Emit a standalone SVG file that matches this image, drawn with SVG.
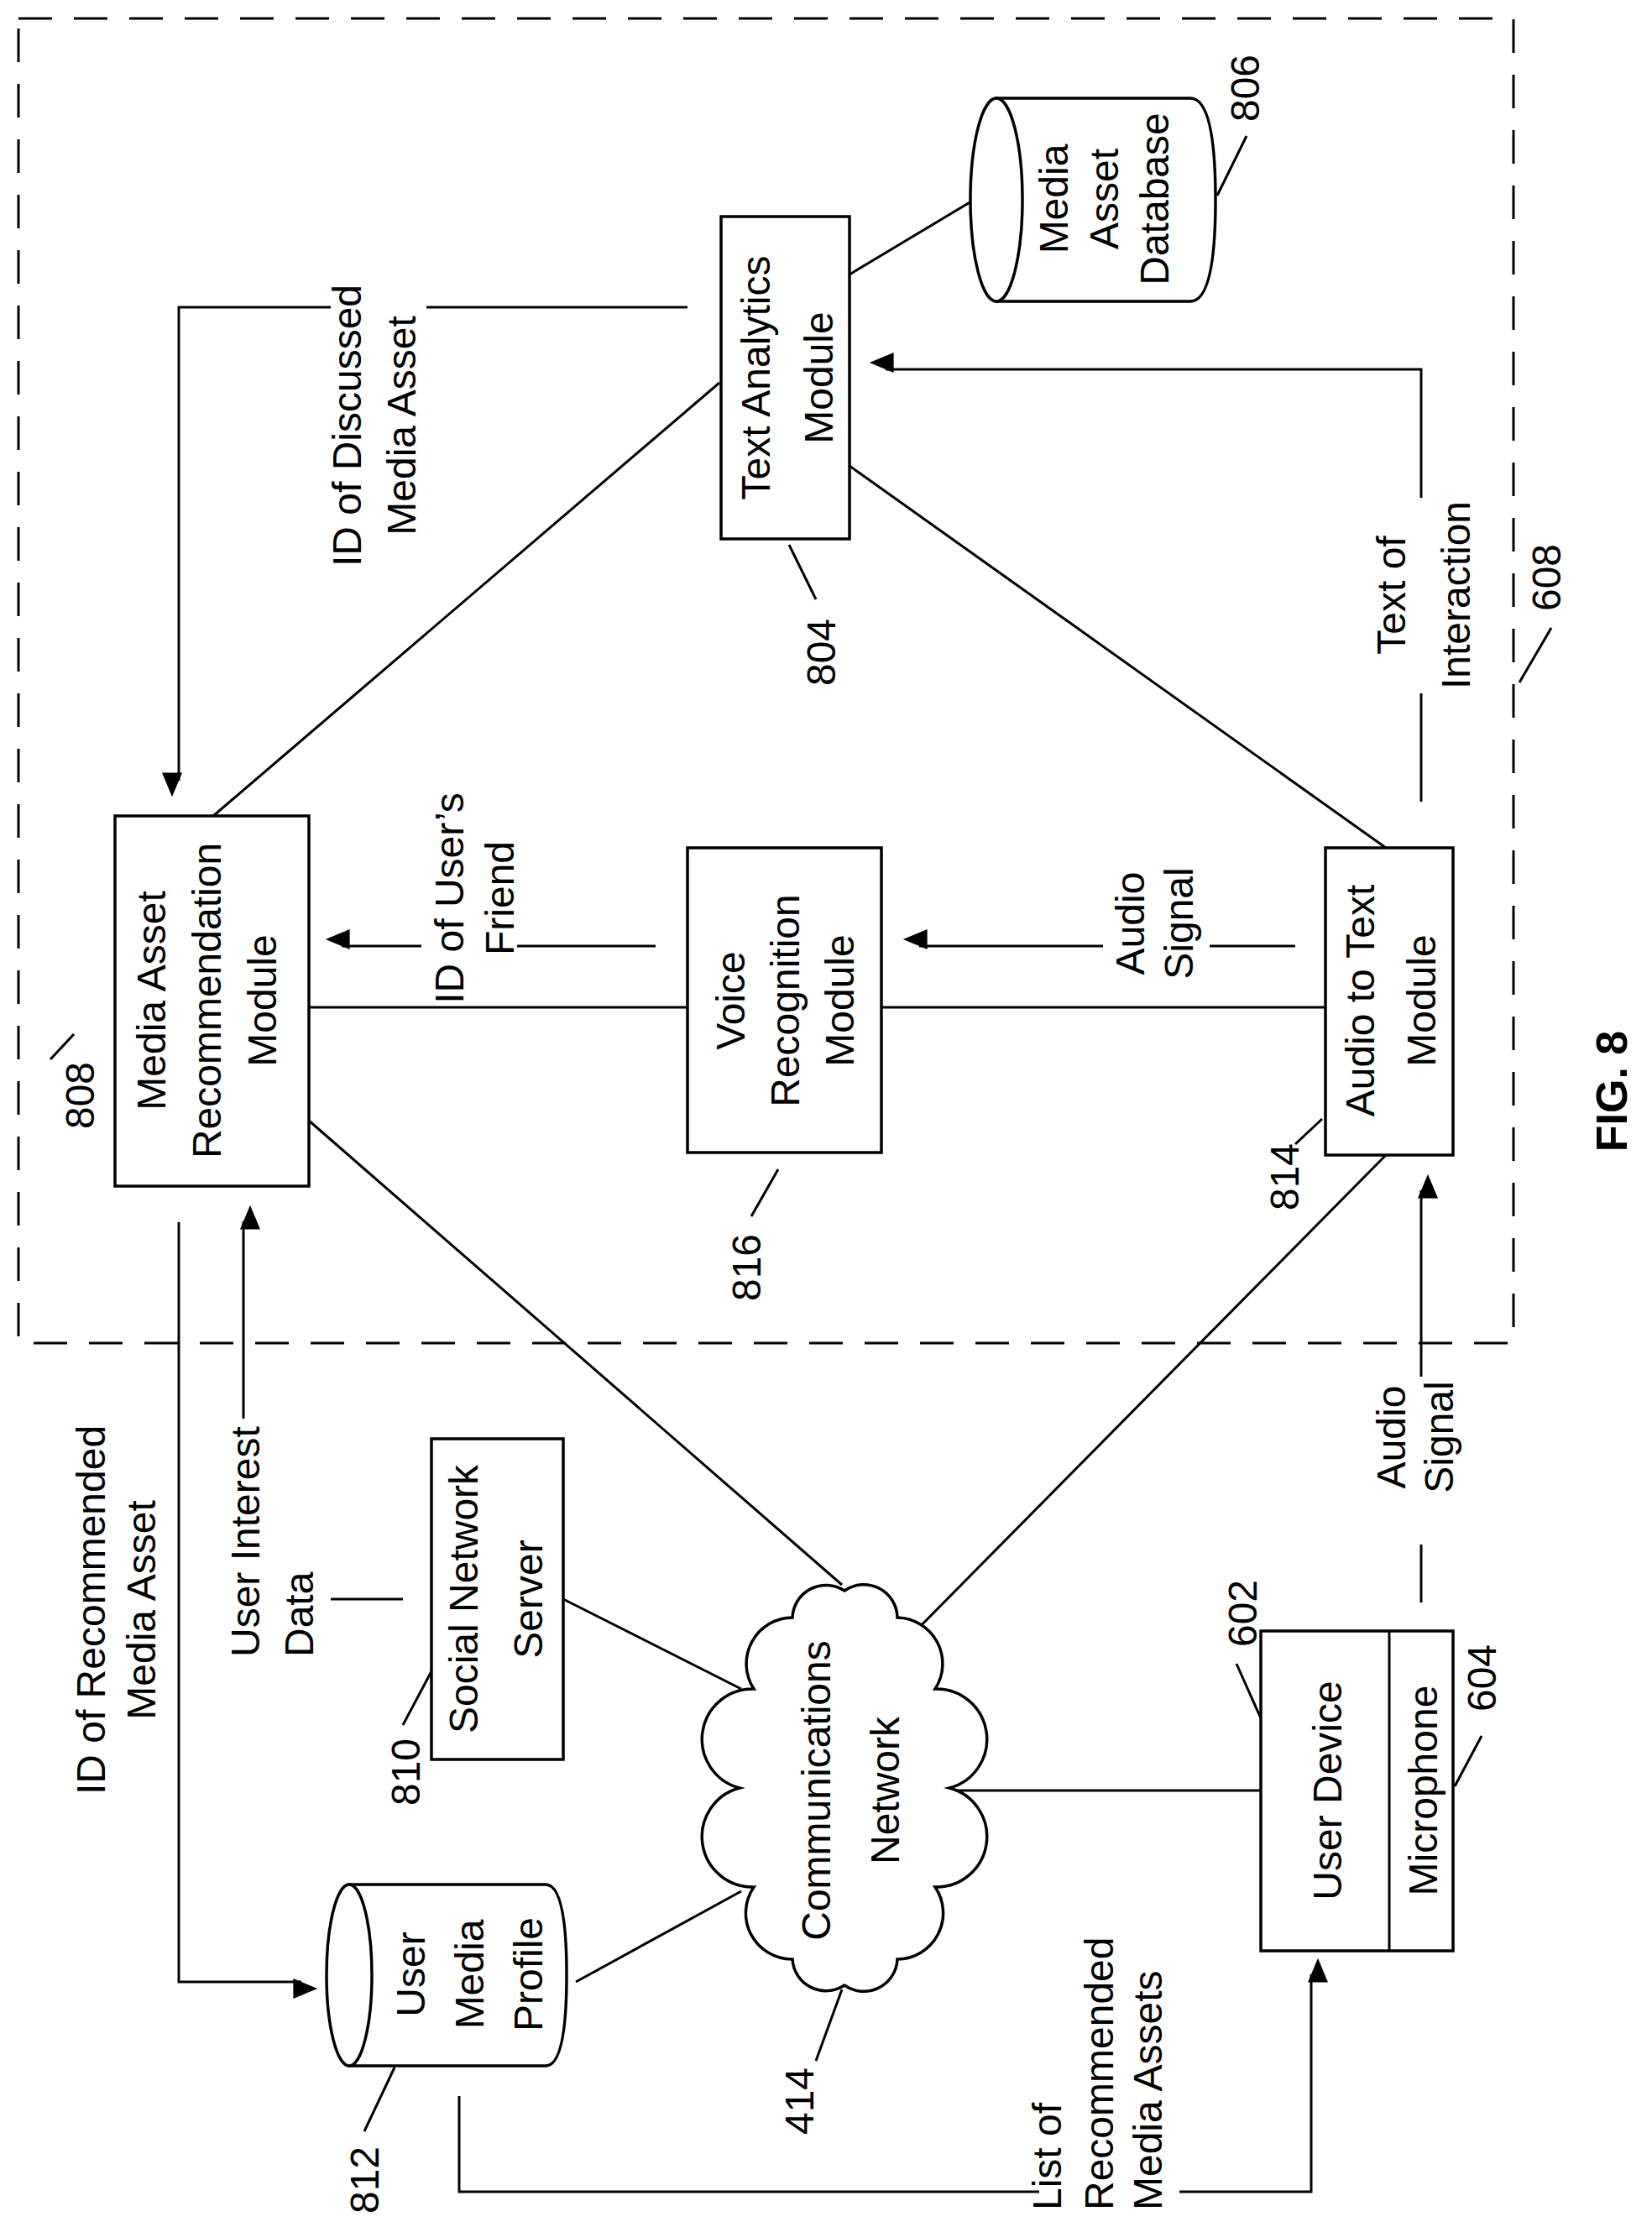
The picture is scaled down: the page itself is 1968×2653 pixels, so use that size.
<svg xmlns="http://www.w3.org/2000/svg" width="1968" height="2653" viewBox="0 0 1968 2653">
<style>
.s{fill:none;stroke:#000;stroke-width:3}
.b{fill:#fff;stroke:#000;stroke-width:3.5}
text{font-family:"Liberation Sans",Arial,sans-serif;font-size:48px;fill:#000;dominant-baseline:central}
.m{text-anchor:middle}
.st{text-anchor:start}
</style>
<defs>
<marker id="a" viewBox="0 0 12 10" refX="12" refY="5" markerWidth="10" markerHeight="8" markerUnits="userSpaceOnUse" orient="auto" style="overflow:visible">
<path d="M0,0 L12,5 L0,10 Z" fill="#000" transform="scale(3)"/>
</marker>
</defs>
<rect x="22" y="22" width="1781" height="1578" fill="none" stroke="#000" stroke-width="3" stroke-dasharray="40,26"/>
<g id="connectors" class="s">
<path d="M819,366 H508 M394,366 H213 V930" marker-end="url(#a)"/>
<path d="M1012,327 L1157,240"/>
<path d="M1693,955 V826 M1693,593 V440 H1055" marker-end="url(#a)"/>
<path d="M254,972 L857,456"/>
<path d="M1012,555 L1651,1010"/>
<path d="M368,1200 H819 M1050,1200 H1579"/>
<path d="M781,1127 H616 M502,1127 H407" marker-end="url(#a)"/>
<path d="M1543,1127 H1441 M1314,1127 H1095" marker-end="url(#a)"/>
<path d="M368,1335 L1003,1888"/>
<path d="M1651,1376 L1073,1961"/>
<path d="M213,1456 V2361 H359" marker-end="url(#a)"/>
<path d="M290,1690 V1455" marker-end="url(#a)"/>
<path d="M394,1905 H480"/>
<path d="M671,1905 L883,2012"/>
<path d="M686,2361 L883,2253"/>
<path d="M1118,2133 H1502"/>
<path d="M1693,1909 V1840 M1693,1640 V1418" marker-end="url(#a)"/>
<path d="M547,2497 V2611 H1238 M1405,2611 H1562 V2352" marker-end="url(#a)"/>
<path d="M1485,162 L1450,233 M940,649 L972,714 M1848,748 L1810,813 M60,1262 L88,1232 M895,1449 L927,1393 M1543,1363 L1575,1333 M480,2055 L514,1991 M972,2455 L1003,2370 M470,2463 L434,2539 M1473,1982 L1502,2047 M1765,2068 L1733,2128"/>
</g>
<g id="n806">
<path class="b" d="M1187,117 H1418 Q1448,117 1448,238 Q1448,359 1418,359 H1187 Z"/>
<ellipse class="b" cx="1187" cy="238" rx="31" ry="121"/>
<text class="m" transform="translate(1255,237) rotate(-90)">Media</text>
<text class="m" transform="translate(1315,237) rotate(-90)">Asset</text>
<text class="m" transform="translate(1375,237) rotate(-90)">Database</text>
<text class="m" transform="translate(1483,105) rotate(-90)">806</text>
</g>
<g id="n804">
<rect class="b" x="859" y="258" width="153" height="384"/>
<text class="m" transform="translate(900,450) rotate(-90)">Text Analytics</text>
<text class="m" transform="translate(975,450) rotate(-90)">Module</text>
<text class="m" transform="translate(978,777) rotate(-90)">804</text>
</g>
<g id="n808">
<rect class="b" x="137" y="972" width="231" height="441"/>
<text class="m" transform="translate(180,1192) rotate(-90)">Media Asset</text>
<text class="m" transform="translate(246,1192) rotate(-90)">Recommendation</text>
<text class="m" transform="translate(312,1192) rotate(-90)">Module</text>
<text class="m" transform="translate(95,1305) rotate(-90)">808</text>
</g>
<g id="n816">
<rect class="b" x="819" y="1010" width="231" height="363"/>
<text class="m" transform="translate(870,1192) rotate(-90)">Voice</text>
<text class="m" transform="translate(935,1192) rotate(-90)">Recognition</text>
<text class="m" transform="translate(1000,1192) rotate(-90)">Module</text>
<text class="m" transform="translate(889,1510) rotate(-90)">816</text>
</g>
<g id="n814">
<rect class="b" x="1579" y="1010" width="152" height="366"/>
<text class="m" transform="translate(1620,1192) rotate(-90)">Audio to Text</text>
<text class="m" transform="translate(1693,1192) rotate(-90)">Module</text>
<text class="m" transform="translate(1530,1402) rotate(-90)">814</text>
</g>
<g id="labels">
<text class="m" transform="translate(413,507) rotate(-90)">ID of Discussed</text>
<text class="m" transform="translate(478,507) rotate(-90)">Media Asset</text>
<text class="m" transform="translate(535,1070) rotate(-90)">ID of User’s</text>
<text class="m" transform="translate(595,1070) rotate(-90)">Friend</text>
<text class="m" transform="translate(1346,1100) rotate(-90)">Audio</text>
<text class="m" transform="translate(1404,1100) rotate(-90)">Signal</text>
<text class="m" transform="translate(1657,709) rotate(-90)">Text of</text>
<text class="m" transform="translate(1734,709) rotate(-90)">Interaction</text>
<text class="m" transform="translate(1842,688) rotate(-90)">608</text>
<text class="m" transform="translate(108,1918) rotate(-90)">ID of Recommended</text>
<text class="m" transform="translate(168,1918) rotate(-90)">Media Asset</text>
<text class="st" transform="translate(292,1974) rotate(-90)">User Interest</text>
<text class="st" transform="translate(356,1974) rotate(-90)">Data</text>
<text class="m" transform="translate(1657,1712) rotate(-90)">Audio</text>
<text class="m" transform="translate(1714,1712) rotate(-90)">Signal</text>
<text class="st" transform="translate(1247,2633) rotate(-90)">List of</text>
<text class="st" transform="translate(1309,2633) rotate(-90)">Recommended</text>
<text class="st" transform="translate(1367,2633) rotate(-90)">Media Assets</text>
<text class="m" transform="translate(1920,1300) rotate(-90)" style="font-weight:bold;font-size:52px">FIG. 8</text>
</g>
<g id="n810">
<rect class="b" x="514" y="1714" width="157" height="382"/>
<text class="m" transform="translate(552,1905) rotate(-90)">Social Network</text>
<text class="m" transform="translate(629,1905) rotate(-90)">Server</text>
<text class="m" transform="translate(483,2111) rotate(-90)">810</text>
</g>
<g id="n414">
<path class="b" d="M1131,2130 A60,60 0 0 1 1114,2248 A55,55 0 0 1 1069,2334 A40,40 0 0 1 1006,2365 A40,40 0 0 1 944,2334 A55,55 0 0 1 898,2248 A60,60 0 0 1 881,2130 A60,60 0 0 1 898,2012 A55,55 0 0 1 944,1927 A40,40 0 0 1 1006,1895 A40,40 0 0 1 1069,1927 A55,55 0 0 1 1114,2012 A60,60 0 0 1 1131,2130 Z"/>
<text class="m" transform="translate(972,2133) rotate(-90)">Communications</text>
<text class="m" transform="translate(1054,2133) rotate(-90)">Network</text>
<text class="m" transform="translate(952,2503) rotate(-90)">414</text>
</g>
<g id="n812">
<path class="b" d="M416,2245 H650 Q675,2245 675,2353 Q675,2461 650,2461 H416 Z"/>
<ellipse class="b" cx="416" cy="2353" rx="27" ry="108"/>
<text class="m" transform="translate(489,2352) rotate(-90)">User</text>
<text class="m" transform="translate(559,2352) rotate(-90)">Media</text>
<text class="m" transform="translate(629,2352) rotate(-90)">Profile</text>
<text class="m" transform="translate(434,2597) rotate(-90)">812</text>
</g>
<g id="n602">
<rect class="b" x="1502" y="1943" width="229" height="381"/>
<line class="s" x1="1655" y1="1943" x2="1655" y2="2324"/>
<text class="m" transform="translate(1581,2133) rotate(-90)">User Device</text>
<text class="m" transform="translate(1695,2133) rotate(-90)">Microphone</text>
<text class="m" transform="translate(1480,1922) rotate(-90)">602</text>
<text class="m" transform="translate(1765,1999) rotate(-90)">604</text>
</g>
</svg>
